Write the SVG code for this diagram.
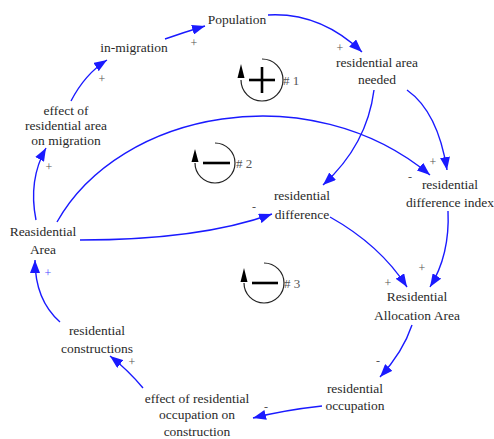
<svg xmlns="http://www.w3.org/2000/svg" width="494" height="439" viewBox="0 0 494 439">
<style>
.t{font-family:"Liberation Serif","Times New Roman",serif;font-size:13.5px;fill:#2a2a2a;text-anchor:middle}
.p{font-family:"Liberation Serif","Times New Roman",serif;font-size:12px;fill:#555;text-anchor:middle}
.pb{font-family:"Liberation Serif","Times New Roman",serif;font-size:12px;fill:#4a4aff;text-anchor:middle}
.c{fill:none;stroke:#1a1aff;stroke-width:1.4;marker-end:url(#ah)}
.lc{fill:none;stroke:#222;stroke-width:1.2}
.ls{stroke:#000;stroke-width:2.6}
.lh{fill:#000}
.lt{font-family:"Liberation Serif","Times New Roman",serif;font-size:13px;fill:#555}
</style>
<defs>
<marker id="ah" viewBox="0 0 13 10" refX="13" refY="5" markerWidth="13" markerHeight="10" markerUnits="userSpaceOnUse" orient="auto">
<path d="M0,0 L13,5 L0,10 z" fill="#1a1aff"/>
</marker>
</defs>
<rect width="494" height="439" fill="#fff"/>
<g id="connectors">
<path class="c" d="M165,39 Q185,32 205,26"/>
<path class="c" d="M71,101 Q85,74 107,60"/>
<path class="c" d="M268,15 Q320,12 362,52"/>
<path class="c" d="M374,90 Q367,145 323,185"/>
<path class="c" d="M407,90 Q438,112 447,170"/>
<path class="c" d="M57,222 C120,110 310,75 430,175"/>
<path class="c" d="M80,240 Q200,240 272,214"/>
<path class="c" d="M330,217 Q380,245 407,287"/>
<path class="c" d="M448,211 Q450,255 430,287"/>
<path class="c" d="M412,325 Q403,352 380,377"/>
<path class="c" d="M322,406 Q285,410 253,418"/>
<path class="c" d="M143,388 Q128,370 110,356"/>
<path class="c" d="M60,322 Q35,300 35,260"/>
<path class="c" d="M36,220 Q28,180 46,148"/>
<text class="p" x="194" y="47">+</text>
<text class="p" x="102" y="83">+</text>
<text class="p" x="340" y="52">+</text>
<text class="p" x="433" y="166">+</text>
<text class="p" x="410" y="181">-</text>
<text class="p" x="254" y="211">-</text>
<text class="p" x="388" y="287">+</text>
<text class="p" x="422" y="272">+</text>
<text class="p" x="378" y="365">-</text>
<text class="p" x="266" y="411">-</text>
<text class="p" x="132" y="366">+</text>
<text class="pb" x="48" y="277">+</text>
<text class="p" x="49" y="171">+</text>
</g>
<g id="loop1">
<path class="lc" d="M262,59 A21,21 0 1 1 241,80"/>
<path class="lh" d="M241,64 L244.5,78 L237.5,78 z"/>
<line class="ls" x1="249" y1="80" x2="275" y2="80"/>
<line class="ls" x1="262" y1="67" x2="262" y2="93"/>
<text class="lt" x="283" y="85"># 1</text>
</g>
<g id="loop2">
<path class="lc" d="M215,143 A20,20 0 1 1 195,163"/>
<path class="lh" d="M195,149 L198.5,162 L191.5,162 z"/>
<line class="ls" x1="203" y1="163" x2="230" y2="163"/>
<text class="lt" x="236" y="168"># 2</text>
</g>
<g id="loop3">
<path class="lc" d="M264,263 A20,20 0 1 1 244,283"/>
<path class="lh" d="M244,268 L247.5,282 L240.5,282 z"/>
<line class="ls" x1="252" y1="283" x2="278" y2="283"/>
<text class="lt" x="284" y="288"># 3</text>
</g>
<g id="population"><text class="t" x="237" y="24">Population</text></g>
<g id="in-migration"><text class="t" x="134" y="52">in-migration</text></g>
<g id="effect-migration"><text class="t" x="66" y="115">effect of</text><text class="t" x="66" y="130">residential area</text><text class="t" x="66" y="145">on migration</text></g>
<g id="area-needed"><text class="t" x="377" y="67">residential area</text><text class="t" x="377" y="84">needed</text></g>
<g id="res-difference"><text class="t" x="302" y="200">residential</text><text class="t" x="302" y="219">difference</text></g>
<g id="diff-index"><text class="t" x="450" y="189">residential</text><text class="t" x="450" y="207">difference index</text></g>
<g id="reasidential-area"><text class="t" x="43" y="236">Reasidential</text><text class="t" x="43" y="254">Area</text></g>
<g id="allocation-area"><text class="t" x="417" y="301">Residential</text><text class="t" x="417" y="320">Allocation Area</text></g>
<g id="occupation"><text class="t" x="355" y="393">residential</text><text class="t" x="355" y="410">occupation</text></g>
<g id="effect-occupation"><text class="t" x="197" y="403">effect of residential</text><text class="t" x="197" y="419">occupation on</text><text class="t" x="197" y="436">construction</text></g>
<g id="constructions"><text class="t" x="97" y="335">residential</text><text class="t" x="97" y="353">constructions</text></g>
</svg>
